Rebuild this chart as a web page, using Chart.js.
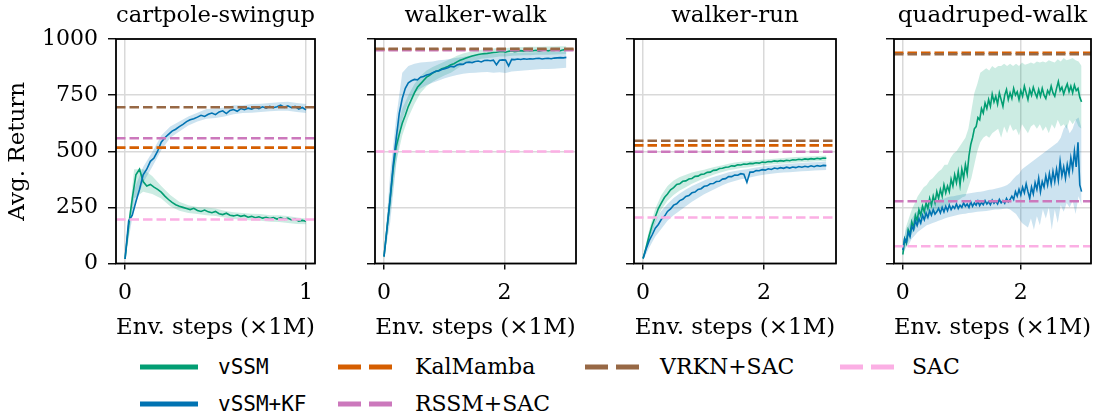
<!DOCTYPE html>
<html><head><meta charset="utf-8">
<script src="https://cdn.jsdelivr.net/npm/chart.js@4.4.1/dist/chart.umd.min.js"></script>
<style>
html,body{margin:0;padding:0;background:#fff;}
body{width:1099px;height:415px;overflow:hidden;position:relative;}
.wrap{position:absolute;top:0;height:345px;}
.lg{position:absolute;white-space:nowrap;line-height:26px;font-size:22px;color:#000;}
.serif{font-family:'DejaVu Serif','Liberation Serif',serif;}
.mono{font-family:'DejaVu Sans Mono','Liberation Mono',monospace;font-size:21px;}
</style></head><body>
<div class="wrap" id="w0" style="left:0px;width:317px"><canvas id="c0"></canvas></div>
<div class="wrap" id="w1" style="left:363px;width:215px"><canvas id="c1"></canvas></div>
<div class="wrap" id="w2" style="left:622px;width:216px"><canvas id="c2"></canvas></div>
<div class="wrap" id="w3" style="left:882px;width:211px"><canvas id="c3"></canvas></div>
<div id="legend"></div>
<script>
// ---------------- DATA ----------------
const tasks = ['cartpole-swingup', 'walker-walk', 'walker-run', 'quadruped-walk'];
const yTicks = [0, 250, 500, 750, 1000];
const xTicks = [[0, 1], [0, 2], [0, 2], [0, 2]];
const xLimits = [[-0.05, 1.05], [-0.15, 3.19], [-0.15, 3.19], [-0.15, 3.19]];

// env steps (x1M) between successive samples of the curves / of the std bands
const meanStep = [0.02, 0.0505, 0.0505, 0.0303];
const bandStep = [0.05, 0.101, 0.101, 0.0505];

// baselines (horizontal reference lines), one value per task
const kalMamba = [516, 953, 526, 939];
const rssmSac  = [558, 950, 498, 277];
const vrknSac  = [696, 956, 547, 932];
const sac      = [196, 499, 205, 77];

// cartpole-swingup
const vssm_cartpole   = [20,170,290,395,420,365,345,352,340,330,318,300,285,272,262,255,250,245,240,246,236,232,238,230,226,232,222,218,224,215,212,216,210,214,206,210,204,208,202,206,200,205,198,204,197,202,194,198,189,192,188];
const vssmKF_cartpole = [20,190,215,275,330,395,420,455,470,500,540,560,575,590,598,610,620,632,640,645,652,660,655,665,670,663,675,680,668,682,686,678,690,685,692,688,695,690,698,692,700,694,698,705,696,702,694,700,688,695,684];
const vssmLo_cartpole   = [15,290,320,310,290,255,235,225,220,215,212,205,198,195,192,190,186,185,180,176,175];
const vssmHi_cartpole   = [30,420,420,390,345,305,275,260,252,250,245,235,228,225,222,220,215,215,212,205,200];
const vssmKFLo_cartpole = [15,250,360,430,505,560,588,615,632,645,648,655,665,670,672,675,678,680,680,675,670];
const vssmKFHi_cartpole = [30,330,430,495,570,610,632,655,672,688,690,695,705,705,710,712,715,718,720,715,710];

// walker-walk
const vssm_walk   = [31,160,285,420,520,575,625,660,700,730,760,785,800,815,830,838,848,855,860,868,872,878,885,890,898,905,910,915,920,924,928,931,933,935,936,938,940,941,943,944,941,945,947,944,946,948,946,949,947,948,950,946,949,951,947,950,949,951,948,952,951];
const vssmKF_walk = [31,158,287,436,556,668,735,780,805,814,820,818,830,833,840,843,850,856,858,864,868,872,878,876,884,888,887,895,897,895,900,902,898,904,905,903,906,885,905,907,906,880,909,908,911,909,912,910,912,911,913,914,911,913,914,912,915,916,917,916,918];
const vssmLo_walk   = [20,220,450,570,650,710,760,790,810,825,838,850,868,885,898,905,912,915,918,922,922,925,926,928,928,930,930,930,931,932,933];
const vssmHi_walk   = [40,350,590,690,750,800,835,860,875,888,900,912,925,935,942,948,952,955,958,960,960,962,963,964,965,966,966,967,967,968,968];
const vssmKFLo_walk = [20,180,440,640,720,760,780,795,805,815,825,833,840,845,848,850,852,853,850,852,848,855,858,860,862,864,866,866,868,870,872];
const vssmKFHi_walk = [40,400,650,850,880,890,895,898,900,905,908,912,916,920,925,930,932,934,935,936,937,938,939,940,940,941,942,942,943,944,945];

// walker-run
const vssm_run   = [22,72,125,172,208,245,270,294,310,328,338,352,355,366,368,376,379,388,389,397,399,406,407,415,416,423,424,429,430,435,434,440,439,443,442,446,445,449,447,452,450,454,453,457,455,458,456,460,458,462,461,464,462,466,464,467,465,469,466,470,469];
const vssmKF_run = [22,65,102,128,157,174,197,210,232,243,260,266,280,286,299,303,315,318,330,333,344,346,355,356,365,366,376,378,387,387,394,393,400,398,362,407,407,414,413,418,416,422,419,425,422,427,424,429,425,430,427,432,429,433,430,435,431,436,433,437,436];
const vssmLo_run   = [15,100,180,240,280,305,325,340,355,368,380,390,400,408,415,420,425,428,432,436,438,441,443,445,447,449,451,452,454,455,456];
const vssmHi_run   = [30,150,245,305,345,370,385,395,405,412,418,425,432,438,444,450,453,456,458,461,463,466,468,470,472,474,476,477,478,479,481];
const vssmKFLo_run = [15,70,120,155,190,215,235,255,275,292,308,322,335,348,360,368,375,380,386,392,396,400,403,405,407,409,411,412,414,415,416];
const vssmKFHi_run = [30,130,190,235,265,292,312,330,345,358,370,381,390,398,406,412,416,420,425,430,434,437,440,442,444,446,448,450,451,452,454];

// quadruped-walk
const vssm_quad   = [40,110,90,150,130,185,160,215,190,240,215,255,230,270,245,290,260,300,270,320,290,330,300,350,315,345,320,375,345,395,360,410,350,420,380,440,400,480,530,560,600,610,650,640,690,670,715,690,730,700,755,720,745,710,760,730,700,750,775,730,760,735,780,750,765,730,770,745,790,760,730,775,750,785,760,740,775,745,780,750,735,770,755,790,760,745,780,810,770,785,755,780,800,765,790,760,795,770,780,740,720];
const vssmKF_quad = [60,110,95,140,120,165,150,190,170,200,180,215,195,225,205,235,215,240,220,230,245,225,250,230,255,235,260,240,255,245,265,245,260,250,270,255,265,250,275,255,270,260,278,258,272,262,280,265,275,262,282,268,278,265,285,270,280,268,290,275,285,300,285,320,300,330,305,340,315,355,320,290,340,310,360,330,380,320,365,340,390,350,400,355,410,365,420,370,455,390,430,380,440,400,470,420,500,430,540,350,320];
const vssmLo_quad   = [30,80,100,130,150,170,180,195,200,210,220,230,240,245,255,260,270,275,280,285,295,300,340,380,440,500,540,560,570,560,580,590,600,560,610,580,620,590,600,570,620,600,580,610,620,600,620,590,610,580,620,600,640,610,620,600,640,620,640,610,600];
const vssmHi_quad   = [70,160,200,240,270,300,320,340,350,370,380,395,410,420,440,440,470,490,500,520,540,560,600,680,760,800,850,860,870,860,880,870,880,880,890,880,890,880,890,880,895,885,890,895,890,900,895,900,895,905,900,895,910,900,915,905,910,915,905,900,880];
const vssmKFLo_quad = [40,70,85,110,125,140,150,160,170,175,180,185,190,195,200,205,208,212,215,218,220,222,225,226,228,230,232,233,234,236,238,240,240,242,244,245,240,230,220,200,180,170,160,200,150,210,170,240,200,250,150,240,180,260,230,270,250,280,220,300,260];
const vssmKFHi_quad = [90,150,170,200,220,235,245,255,265,270,275,280,285,288,290,295,298,300,303,305,308,310,312,314,316,318,320,322,325,328,330,333,336,340,344,350,360,375,390,400,420,430,440,450,460,470,480,490,500,510,520,530,540,560,600,620,580,600,640,650,600];

const vssm   = [vssm_cartpole, vssm_walk, vssm_run, vssm_quad];
const vssmKF = [vssmKF_cartpole, vssmKF_walk, vssmKF_run, vssmKF_quad];
const vssmLo = [vssmLo_cartpole, vssmLo_walk, vssmLo_run, vssmLo_quad];
const vssmHi = [vssmHi_cartpole, vssmHi_walk, vssmHi_run, vssmHi_quad];
const vssmKFLo = [vssmKFLo_cartpole, vssmKFLo_walk, vssmKFLo_run, vssmKFLo_quad];
const vssmKFHi = [vssmKFHi_cartpole, vssmKFHi_walk, vssmKFHi_run, vssmKFHi_quad];

// ---------------- STYLE ----------------
const C = {
  vssm: '#029E73', vssmKF: '#0173B2', kal: '#D55E00', rssm: '#CC78BC', vrkn: '#976845', sac: '#FBAFE4'
};
const serif = "'DejaVu Serif','Liberation Serif',serif";
const txt = {family: serif, size: 23, weight: 'normal'};
const tickTxt = {family: serif, size: 22, weight: 'normal'};

const frame = {
  id: 'frame',
  afterDraw(chart) {
    const {ctx, chartArea: a} = chart;
    ctx.save();
    ctx.strokeStyle = '#000';
    ctx.lineWidth = 1.8;
    ctx.strokeRect(a.left, a.top, a.right - a.left, a.bottom - a.top);
    ctx.restore();
  }
};

function xy(vals, step) { return vals.map((v, i) => ({x: +(i * step).toFixed(4), y: v})); }
function hline(v, k) { return [{x: xLimits[k][0], y: v}, {x: xLimits[k][1], y: v}]; }
function dashed(label, v, k, color, order) {
  return {label, data: hline(v, k), borderColor: color, borderWidth: 2.6, borderDash: [9.5, 4],
          pointRadius: 0, fill: false, order};
}

function makeChart(k) {
  const first = k === 0;
  const datasets = [
    dashed('SAC', sac[k], k, C.sac, 0),
    dashed('VRKN+SAC', vrknSac[k], k, C.vrkn, 1),
    dashed('RSSM+SAC', rssmSac[k], k, C.rssm, 2),
    dashed('KalMamba', kalMamba[k], k, C.kal, 3),
    {label: 'vSSM+KF', data: xy(vssmKF[k], meanStep[k]), borderColor: C.vssmKF, borderWidth: 1.6, pointRadius: 0, fill: false, order: 4},
    {label: 'vSSM', data: xy(vssm[k], meanStep[k]), borderColor: C.vssm, borderWidth: 1.6, pointRadius: 0, fill: false, order: 5},
    {label: 'kfhi', data: xy(vssmKFHi[k], bandStep[k]), borderWidth: 0, pointRadius: 0, backgroundColor: 'rgba(1,115,178,0.2)', fill: 7, order: 6},
    {label: 'kflo', data: xy(vssmKFLo[k], bandStep[k]), borderWidth: 0, pointRadius: 0, fill: false, order: 7},
    {label: 'hi', data: xy(vssmHi[k], bandStep[k]), borderWidth: 0, pointRadius: 0, backgroundColor: 'rgba(2,158,115,0.2)', fill: 9, order: 8},
    {label: 'lo', data: xy(vssmLo[k], bandStep[k]), borderWidth: 0, pointRadius: 0, fill: false, order: 9}
  ];
  new Chart(document.getElementById('c' + k), {
    type: 'line',
    data: {datasets},
    options: {
      responsive: true, maintainAspectRatio: false, animation: false, devicePixelRatio: 1, events: [],
      layout: {padding: {left: 0, right: 2, top: 0, bottom: 0}},
      plugins: {
        legend: {display: false}, tooltip: {enabled: false},
        title: {display: true, text: tasks[k], color: '#000', font: txt, padding: {top: 2.4, bottom: 9}, fullSize: false}
      },
      scales: {
        x: {
          type: 'linear', min: xLimits[k][0], max: xLimits[k][1],
          afterBuildTicks: s => { s.ticks = xTicks[k].map(v => ({value: v})); },
          afterFit: s => { s.height = 81.5; s.paddingLeft = 0; s.paddingRight = 0; },
          ticks: {color: '#000', font: tickTxt, padding: 10.3, maxRotation: 0, autoSkip: false, callback: v => String(v)},
          grid: {color: '#d9d9d9', lineWidth: 1.5, tickColor: '#000', tickLength: 6, tickWidth: 1.4},
          border: {display: false},
          title: {display: true, text: 'Env. steps (×1M)', color: '#000', font: txt, padding: {top: 0, bottom: 3.2}}
        },
        y: {
          type: 'linear', min: 0, max: 1000,
          afterBuildTicks: s => { s.ticks = yTicks.map(v => ({value: v})); },
          afterFit: s => { s.width = first ? 116 : 12; },
          ticks: {display: first, color: '#000', font: tickTxt, padding: 10, callback: v => String(v)},
          grid: {color: '#d9d9d9', lineWidth: 1.5, tickColor: '#000', tickLength: 8, tickWidth: 1.4},
          border: {display: false},
          title: {display: first, text: 'Avg. Return', color: '#000', font: txt, padding: {top: 4.2, bottom: 0}}
        }
      }
    },
    plugins: [frame]
  });
}
for (let k = 0; k < 4; k++) makeChart(k);

// ---------------- LEGEND (HTML) ----------------
const legendNames  = ['vSSM', 'vSSM+KF', 'KalMamba', 'RSSM+SAC', 'VRKN+SAC', 'SAC'];
const legendColors = [C.vssm, C.vssmKF, C.kal, C.rssm, C.vrkn, C.sac];
const legendMono   = [true, true, false, false, false, false];
const legendDashed = [false, false, true, true, true, true];
const legendHandleX = [140, 140, 338, 338, 585, 840];
const legendTextX   = [218, 218, 415, 415, 660, 912];
const legendRowY    = [367, 404, 367, 404, 367, 367];
const lg = document.getElementById('legend');
legendNames.forEach((name, i) => {
  const h = document.createElement('div');
  h.className = 'lg';
  h.style.left = legendHandleX[i] + 'px';
  h.style.top = (legendRowY[i] - 4) + 'px';
  h.style.lineHeight = '8px';
  h.innerHTML = `<svg width="58" height="8" style="display:block"><line x1="0" y1="4" x2="58" y2="4" stroke="${legendColors[i]}" stroke-width="5"${legendDashed[i] ? ' stroke-dasharray="23 8"' : ''}/></svg>`;
  lg.appendChild(h);
  const t = document.createElement('div');
  t.className = 'lg ' + (legendMono[i] ? 'mono' : 'serif');
  t.style.left = legendTextX[i] + 'px';
  t.style.top = (legendRowY[i] - 13) + 'px';
  t.textContent = name;
  lg.appendChild(t);
});
</script>
</body></html>
